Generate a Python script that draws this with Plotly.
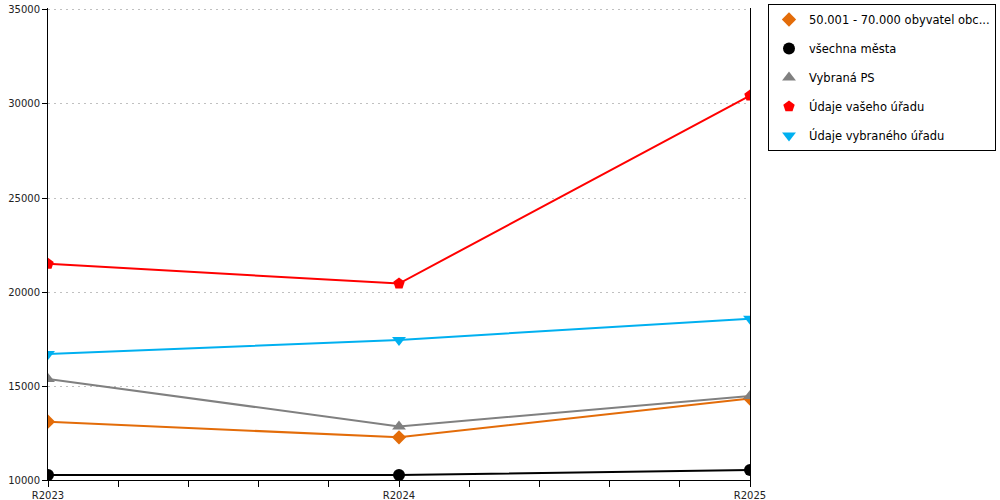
import plotly.graph_objects as go

categories = ["R2023", "R2024", "R2025"]
series_names = [
    "50.001 - 70.000 obyvatel obc...",
    "všechna města",
    "Vybraná PS",
    "Údaje vašeho úřadu",
    "Údaje vybraného úřadu",
]
s_orange = [13100, 12270, 14330]
s_black = [10270, 10270, 10530]
s_gray = [15370, 12850, 14470]
s_red = [21500, 20450, 30450]
s_blue = [16700, 17450, 18580]
y_ticks = [10000, 15000, 20000, 25000, 30000, 35000]

values = [s_orange, s_black, s_gray, s_red, s_blue]
colors = ["#E36C09", "#000000", "#808080", "#FF0000", "#00B0F0"]
symbols = ["diamond", "circle", "triangle-up", "pentagon", "triangle-down"]
sizes = [11, 12, 12, 12, 12]

xpos = list(range(len(categories)))

fig = go.Figure()
for i, (name, vals) in enumerate(zip(series_names, values)):
    fig.add_trace(go.Scatter(
        x=xpos, y=vals, name=name, mode="lines",
        line=dict(color=colors[i], width=2),
        showlegend=False, hoverinfo="skip",
    ))
for i, (name, vals) in enumerate(zip(series_names, values)):
    fig.add_trace(go.Scatter(
        x=xpos, y=vals, name=name, mode="markers",
        marker=dict(symbol=symbols[i], size=sizes[i], color=colors[i]),
        legendgroup=f"g{i}",
    ))

fig.update_layout(
    width=1000, height=500,
    margin=dict(l=48, r=250, t=8, b=20, autoexpand=False),
    paper_bgcolor="white", plot_bgcolor="white",
    font=dict(family="DejaVu Sans", size=10, color="#222"),
    showlegend=True,
    legend=dict(
        xref="container", yref="container",
        x=0.768, xanchor="left", y=0.992, yanchor="top",
        bordercolor="#000", borderwidth=1, bgcolor="white",
        font=dict(family="DejaVu Sans", size=11.5, color="#000"),
        tracegroupgap=10,
    ),
    xaxis=dict(
        range=[0, 2], tickvals=xpos, ticktext=categories,
        showgrid=False, zeroline=False, automargin=False,
        showline=True, linecolor="#000", linewidth=1,
        ticks="outside", ticklen=6, tickcolor="#000",
        minor=dict(dtick=0.2, tick0=0, ticks="outside", ticklen=6, tickcolor="#000", showgrid=False),
        tickfont=dict(family="DejaVu Sans", size=10, color="#222"),
    ),
    yaxis=dict(
        range=[10000, 35106], tickvals=y_ticks, tickformat="d",
        showgrid=True, gridcolor="#c0c0c0", griddash="2px,4px", gridwidth=1,
        zeroline=False, automargin=False, ticklabeloverflow="allow",
        showline=True, linecolor="#000", linewidth=1, mirror=True,
        ticks="outside", ticklen=5, tickcolor="#000",
        tickfont=dict(family="DejaVu Sans", size=10, color="#222"),
    ),
)

fig.write_html(
    "out.html",
    config={"displayModeBar": False},
    post_script="document.body.style.margin='0';",
)
